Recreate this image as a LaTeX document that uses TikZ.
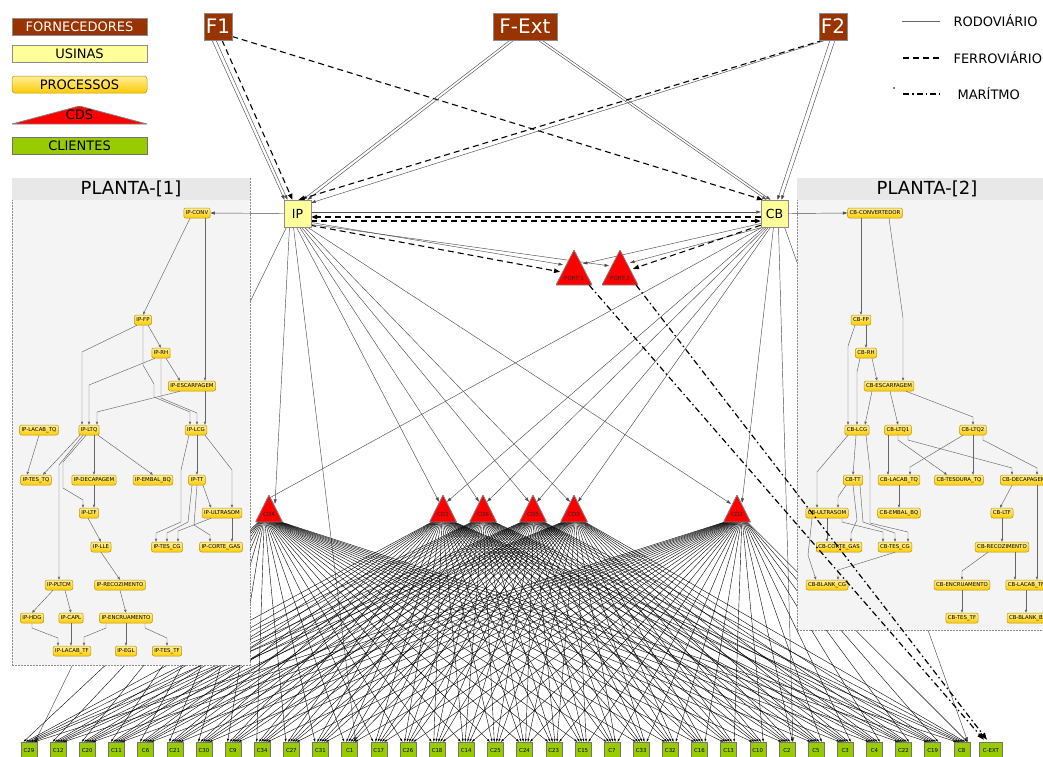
\documentclass[tikz,border=0pt]{standalone}
\usepackage{fontspec}
\setmainfont{DejaVu Sans}
\usetikzlibrary{arrows.meta,calc}
\pgfdeclarelayer{wires}
\pgfdeclarelayer{clusters}
\pgfdeclarelayer{over}
\pgfsetlayers{wires,clusters,main,over}

\definecolor{fornfill}{HTML}{993300}
\definecolor{usinafill}{HTML}{FFFF99}
\definecolor{procA}{HTML}{FFEE99}
\definecolor{procB}{HTML}{FFCC00}
\definecolor{procline}{HTML}{B8960A}
\definecolor{clifill}{HTML}{99CC00}
\definecolor{cdred}{HTML}{FF0000}
\definecolor{clhead}{HTML}{E8E8E8}
\definecolor{clbody}{HTML}{F4F4F4}

\tikzset{
  forn/.style={draw=black!45, fill=fornfill, text=white, inner sep=0pt, minimum height=27, font=\fontsize{20}{20}\selectfont},
  usinabox/.style={draw=black!45, fill=usinafill, inner sep=0pt, minimum width=27, minimum height=27, font=\fontsize{12.5}{13}\selectfont},
  proc/.style={draw=procline, rounded corners=2pt, top color=procA, bottom color=procB, inner xsep=2pt, inner ysep=0pt, minimum height=10, font=\fontsize{5.4}{6}\selectfont, line width=0.5pt},
  cli/.style={draw=black!55, fill=clifill, inner sep=0pt, minimum width=16, minimum height=18, font=\fontsize{5.4}{6}\selectfont},
  tri/.style={inner sep=0pt, path picture={\filldraw[fill=cdred, draw=black!50, line width=0.8pt] (path picture bounding box.south west) -- (path picture bounding box.south east) -- (path picture bounding box.north) -- cycle;}},
  cdnode/.style={tri, minimum width=27, minimum height=27},
  portnode/.style={tri, minimum width=36, minimum height=35},
  trilabel/.style={font=\fontsize{5.6}{6}\selectfont, text=black!85, anchor=center, label distance=0pt},
  cluster/.style={draw=black!45, dash pattern=on 2pt off 1pt, fill=clbody, line width=0.5pt, inner sep=0pt},
  road/.style={draw=black!70, line width=0.45pt, -{Triangle[length=4.5pt,width=3pt]}},
  rail/.style={draw=black, line width=1.1pt, dash pattern=on 6pt off 4pt, -{Triangle[length=6pt,width=4.5pt]}},
  sea/.style={draw=black, line width=1.2pt, dash pattern=on 6pt off 3pt on 1.5pt off 3pt, -{Triangle[length=7pt,width=5pt]}},
  fan/.style={draw=black, line width=0.4pt, -{Triangle[length=3pt,width=1.8pt]}},
  pe/.style={draw=black!60, line width=0.45pt, -{Triangle[length=3pt,width=2.4pt]}},
  legtext/.style={font=\fontsize{13}{13}\selectfont, anchor=west}
}

\begin{document}
\begin{tikzpicture}[x=1pt,y=-1pt]
\useasboundingbox (0,0) rectangle (1043,756);
\clip (0,0) rectangle (1043,756);

% ---------- legend ----------
\node[forn, minimum width=135, minimum height=17, font=\fontsize{13}{13}\selectfont] (lgF) at (79.5,26.5) {FORNECEDORES};
\node[usinabox, minimum width=135, minimum height=17, font=\fontsize{13}{13}\selectfont] (lgU) at (79.5,53.5) {USINAS};
\node[proc, minimum width=135, minimum height=17, rounded corners=3pt, font=\fontsize{13}{13}\selectfont] (lgP) at (79.5,84.5) {PROCESSOS};
\node[tri, minimum width=135, minimum height=18, font=\fontsize{13}{13}\selectfont] (lgCD) at (79.5,115) {CDS};
\node[cli, minimum width=135, minimum height=17, font=\fontsize{13}{13}\selectfont] (lgC) at (79.5,145.5) {CLIENTES};

\draw[draw=black!60, line width=0.5pt] (902,21) -- (940,21);
\node[legtext] (lgRod) at (950,21) {RODOVIÁRIO};
\draw[draw=black, line width=1.1pt, dash pattern=on 6pt off 4pt] (903,58) -- (940,58);
\node[legtext] (lgFer) at (950,58) {FERROVIÁRIO};
\fill (894,88) circle (0.8);
\draw[draw=black, line width=1.2pt, dash pattern=on 6pt off 3pt on 1.5pt off 3pt] (903,94) -- (940,94);
\node[legtext] (lgMar) at (954,94) {MARÍTMO};

% ---------- suppliers and mills ----------
\node[forn, minimum width=28] (F1) at (218,26.5) {F1};
\node[forn, minimum width=64] (FExt) at (525,26.5) {F-Ext};
\node[forn, minimum width=28] (F2) at (833,26.5) {F2};
\node[usinabox] (IP) at (297.5,213.5) {IP};
\node[usinabox] (CB) at (774.5,213.5) {CB};

% ---------- ports and distribution centres ----------
\node[portnode, label={[trilabel, yshift=-29pt]90:PORT-1}] (PORT1) at (574,267.5) {};
\node[portnode, label={[trilabel, yshift=-29pt]90:PORT-2}] (PORT2) at (620,267.5) {};
\foreach \nm/\x in {CD4/269,CD1/443,CD6/483,CD5/533,CD3/574,CD2/737}
  \node[cdnode, label={[trilabel, yshift=-20pt]90:\nm}] (\nm) at (\x,508.5) {};

% ---------- clients ----------
\def\clientlist{C29,C12,C20,C11,C6,C21,C30,C9,C34,C27,C31,C1,C17,C26,C18,C14,C25,C24,C23,C15,C7,C33,C32,C16,C13,C10,C2,C5,C3,C4,C22,C19,C8}
\foreach \nm [count=\i from 0] in \clientlist
  \node[cli] (\nm) at ({29+29.15*\i},751) {\nm};
\node[cli, minimum width=23] (CEXT) at (991,751) {C-EXT};

% ---------- plant 1 processes ----------
\node[proc] (ipconv) at (197,213) {IP-CONV};
\node[proc] (ipfp) at (143,320) {IP-FP};
\node[proc] (iprh) at (161,353) {IP-RH};
\node[proc] (ipesc) at (192,386) {IP-ESCARFAGEM};
\node[proc] (iplacabtq) at (39,430) {IP-LACAB\_TQ};
\node[proc] (ipltq) at (89,430) {IP-LTQ};
\node[proc] (iplcg) at (196,430) {IP-LCG};
\node[proc] (iptestq) at (36,480) {IP-TES\_TQ};
\node[proc] (ipdecap) at (94,480) {IP-DECAPAGEM};
\node[proc] (ipembal) at (153,480) {IP-EMBAL\_BQ};
\node[proc] (iptt) at (197,480) {IP-TT};
\node[proc] (ipltf) at (89,513) {IP-LTF};
\node[proc] (ipultra) at (222,513) {IP-ULTRASOM};
\node[proc] (iplle) at (101,547) {IP-LLE};
\node[proc] (iptescg) at (167,547) {IP-TES\_CG};
\node[proc] (ipcorte) at (221,547) {IP-CORTE\_GAS};
\node[proc] (ippltcm) at (59,585) {IP-PLTCM};
\node[proc] (iprecoz) at (120,585) {IP-RECOZIMENTO};
\node[proc] (iphdg) at (32,618) {IP-HDG};
\node[proc] (ipcapl) at (71,618) {IP-CAPL};
\node[proc] (ipencru) at (126,618) {IP-ENCRUAMENTO};
\node[proc] (iplacabtf) at (72,651) {IP-LACAB\_TF};
\node[proc] (ipegl) at (126,651) {IP-EGL};
\node[proc] (iptestf) at (167,651) {IP-TES\_TF};

% ---------- plant 2 processes ----------
\node[proc] (cbconv) at (875,213) {CB-CONVERTEDOR};
\node[proc] (cbfp) at (861,320) {CB-FP};
\node[proc] (cbrh) at (866,353) {CB-RH};
\node[proc] (cbesc) at (889,386) {CB-ESCARFAGEM};
\node[proc] (cblcg) at (857,430) {CB-LCG};
\node[proc] (cbltq1) at (898,430) {CB-LTQ1};
\node[proc] (cbltq2) at (973,430) {CB-LTQ2};
\node[proc] (cbtt) at (853,480) {CB-TT};
\node[proc] (cblacabtq) at (899,480) {CB-LACAB\_TQ};
\node[proc] (cbtesoura) at (959,480) {CB-TESOURA\_TQ};
\node[proc] (cbdecap) at (1024,480) {CB-DECAPAGEM};
\node[proc] (cbultra) at (827,513) {CB-ULTRASOM};
\node[proc] (cbembal) at (899,513) {CB-EMBAL\_BQ};
\node[proc] (cbltf) at (1002,513) {CB-LTF};
\node[proc] (cbcorte) at (839,547) {CB-CORTE\_GAS};
\node[proc] (cbtescg) at (895,547) {CB-TES\_CG};
\node[proc] (cbrecoz) at (1002,547) {CB-RECOZIMENTO};
\node[proc] (cbblankcg) at (827,585) {CB-BLANK\_CG};
\node[proc] (cbencru) at (962,585) {CB-ENCRUAMENTO};
\node[proc] (cblacabtf) at (1026,585) {CB-LACAB\_TF};
\node[proc] (cbtestf) at (962,618) {CB-TES\_TF};
\node[proc] (cbblankbq) at (1028,618) {CB-BLANK\_BQ};

% ---------- plant frames ----------
\begin{pgfonlayer}{clusters}
  \node[cluster, minimum width=238, minimum height=487] (planta1) at (131,421.5) {};
  \fill[clhead] (12.4,178.4) rectangle (249.6,200);
  \node[font=\fontsize{18}{18}\selectfont] (planta1t) at (131,189) {PLANTA-[1]};
  \node[cluster, minimum width=260, minimum height=452] (planta2) at (927,404) {};
  \fill[clhead] (797.4,178.4) rectangle (1056.6,200);
  \node[font=\fontsize{18}{18}\selectfont] (planta2t) at (927,189) {PLANTA-[2]};
\end{pgfonlayer}

% ---------- road / rail network ----------
\begin{pgfonlayer}{wires}
  % suppliers to mills
  \draw[road] ($(F1.south)+(-6,0)$) -- ($(IP.north)+(-13,0)$);
  \draw[road] ($(F1.south)+(-2,0)$) -- ($(IP.north)+(-10,0)$);
  \draw[rail] ($(F1.south)+(4,0)$) -- ($(IP.north)+(-5,0)$);
  \draw[rail] ($(F1.east)+(0,10)$) -- ($(CB.north west)+(2,0)$);
  \draw[road] ($(FExt.south)+(-15,0)$) -- ($(IP.north)+(5,0)$);
  \draw[road] ($(FExt.south)+(-11,0)$) -- ($(IP.north)+(10,0)$);
  \draw[road] ($(FExt.south)+(13,0)$) -- ($(CB.north)+(-8,0)$);
  \draw[road] ($(FExt.south)+(17,0)$) -- ($(CB.north)+(-4,0)$);
  \draw[rail] ($(F2.south)+(-10,0)$) -- ($(IP.north)+(1,0)$);
  \draw[road] ($(F2.south)+(-7,0)$) -- ($(IP.north east)+(0,3)$);
  \draw[road] ($(F2.south)+(-3,0)$) -- ($(CB.north)+(3,0)$);
  \draw[road] ($(F2.south)+(2,0)$) -- ($(CB.north)+(7,0)$);
  % between mills
  \draw[road] ($(IP.east)+(0,-1.5)$) -- ($(CB.west)+(0,-1.5)$);
  \draw[rail] ($(CB.west)+(0,3.5)$) -- ($(IP.east)+(0,3.5)$);
  \draw[rail] ($(IP.east)+(0,7.5)$) -- ($(CB.west)+(0,7.5)$);
  % mills to ports
  \draw[road] ($(IP.east)+(0,9)$) -- ($(PORT1.north)+(-11,15)$);
  \draw[rail] ($(IP.south east)+(-1,-2)$) -- ($(PORT1.north)+(-14,22)$);
  \draw[road] ($(IP.east)+(0,11)$) -- ($(PORT2.north)+(-11,16)$);
  \draw[road] ($(CB.west)+(0,10)$) -- ($(PORT1.north)+(9,14)$);
  \draw[road] ($(CB.south west)+(2,0)$) -- ($(PORT2.north)+(10,13)$);
  \draw[rail] ($(CB.south west)+(0,-2)$) -- ($(PORT2.north)+(13,19)$);
  % mills to distribution centres and clients
  \draw[road] ($(IP.south)+(-11,0)$) -- ($(C29.north)+(6,0)$);
  \draw[road] ($(IP.south)+(-8,0)$) -- ($(CD4.north)+(6,9)$);
  \draw[road] ($(IP.south)+(-4,0)$) -- ($(C1.north)+(6,0)$);
  \draw[road] ($(IP.south)+(-1,0)$) -- ($(CD1.north)+(-4,7)$);
  \draw[road] ($(IP.south)+(2,0)$) -- ($(CD6.north)+(-4,7)$);
  \draw[road] ($(IP.south)+(4,0)$) -- ($(CD5.north)+(-4,7)$);
  \draw[road] ($(IP.south)+(7,0)$) -- ($(CD3.north)+(-4,7)$);
  \draw[road] ($(IP.south)+(10,0)$) -- ($(CD2.north)+(-6,9)$);
  \draw[road] ($(CB.south)+(-12,0)$) -- ($(CD4.north)+(-3,5)$);
  \draw[road] ($(CB.south)+(-10,0)$) -- ($(CD1.north)+(4,7)$);
  \draw[road] ($(CB.south)+(-8,0)$) -- ($(CD6.north)+(4,7)$);
  \draw[road] ($(CB.south)+(-6,0)$) -- ($(CD5.north)+(4,7)$);
  \draw[road] ($(CB.south)+(-4,0)$) -- ($(CD3.north)+(4,7)$);
  \draw[road] ($(CB.south)+(-1,0)$) -- ($(CD2.north)+(5,8)$);
  \draw[road] ($(CB.south)+(4,0)$) -- ($(C2.north)+(6,0)$);
  \draw[road] ($(CB.south)+(10,0)$) -- ($(C8.north)+(6,0)$);
  % distribution centres to clients
  \foreach \cd [count=\k] in {CD4,CD1,CD6,CD5,CD3,CD2} {
    \foreach \nm [count=\i from 0] in \clientlist {
      \draw[fan] ($(\cd.south)+({(\i-16)*0.6},-1)$) -- ($(\nm.north)+({(\k-3.5)*2.2},0)$);
    }
  }
\end{pgfonlayer}

% ---------- plant 1 flows ----------
\draw[road] (IP.west) -- (ipconv.east);
\draw[pe] ($(ipconv.south)+(-7,0)$) -- (ipfp.north);
\draw[pe] ($(ipconv.south)+(8,0)$) -- ($(ipesc.north)+(13,0)$);
\draw[pe] ($(ipfp.south)+(5,0)$) -- (iprh.north);
\draw[pe] ($(ipfp.south)+(-6,0)$) -- (82,352) -- ($(ipltq.north)+(-7,0)$);
\draw[pe] (ipfp.south) -- (143,365) -- (154,384) -- (154,397) -- (190,412) -- ($(iplcg.north)+(-6,0)$);
\draw[pe] ($(iprh.south)+(5,0)$) -- ($(ipesc.north)+(-12,0)$);
\draw[pe] ($(iprh.south)+(-6,0)$) -- (89,385) -- (ipltq.north);
\draw[pe] (iprh.south) -- (161,398) -- (197,413) -- ($(iplcg.north)+(1,0)$);
\draw[pe] ($(ipesc.south)+(-12,0)$) -- (97,412) -- ($(ipltq.north)+(8,0)$);
\draw[pe] ($(ipesc.south)+(13,0)$) -- ($(iplcg.north)+(9,0)$);
\draw[pe] (iplacabtq.south) -- ($(iptestq.north)+(-9,0)$);
\draw[pe] ($(ipltq.south)+(-9,0)$) -- ($(iptestq.north)+(7,0)$);
\draw[pe] ($(ipltq.south)+(5,0)$) -- (ipdecap.north);
\draw[pe] ($(ipltq.south)+(9,0)$) -- (ipembal.north);
\draw[pe] ($(ipltq.south)+(-3,0)$) -- (63,462) -- (63,488) -- (83,500) -- ($(ipltf.north)+(-6,0)$);
\draw[pe] ($(ipltq.south)+(-6,0)$) -- (59,465) -- (ippltcm.north);
\draw[pe] (ipdecap.south) -- ($(ipltf.north)+(5,0)$);
\draw[pe] ($(ipltf.south)+(-1,0)$) -- (iplle.north);
\draw[pe] (iplle.south) -- (iprecoz.north);
\draw[pe] (iprecoz.south) -- (ipencru.north);
\draw[pe] ($(ippltcm.south)+(-6,0)$) -- (iphdg.north);
\draw[pe] ($(ippltcm.south)+(6,0)$) -- (ipcapl.north);
\draw[pe] (iphdg.south) -- (32,628) -- (58,638) -- ($(iplacabtf.north)+(-14,0)$);
\draw[pe] (ipcapl.south) -- ($(iplacabtf.north)+(-1,0)$);
\draw[pe] ($(ipencru.south)+(-20,0)$) -- (106,628) -- (84,637) -- ($(iplacabtf.north)+(12,0)$);
\draw[pe] (ipencru.south) -- (ipegl.north);
\draw[pe] ($(ipencru.south)+(19,0)$) -- (145,628) -- (167,638) -- (iptestf.north);
\draw[pe] ($(iplcg.south)+(1,0)$) -- (iptt.north);
\draw[pe] ($(iplcg.south)+(9,0)$) -- (232,470) -- ($(ipultra.north)+(10,0)$);
\draw[pe] ($(iplcg.south)+(-7,0)$) -- (181,470) -- (181,522) -- (156,533) -- ($(iptescg.north)+(-11,0)$);
\draw[pe] ($(iptt.south)+(-5,0)$) -- (188,522) -- (167,533) -- (iptescg.north);
\draw[pe] (iptt.south) -- (194,525) -- (210,535) -- ($(ipcorte.north)+(-11,0)$);
\draw[pe] ($(iptt.south)+(6,0)$) -- ($(ipultra.north)+(-11,0)$);
\draw[pe] ($(ipultra.south)+(-11,0)$) -- (178,531) -- ($(iptescg.north)+(11,0)$);
\draw[pe] ($(ipultra.south)+(10,0)$) -- ($(ipcorte.north)+(11,0)$);

% ---------- plant 2 flows ----------
\draw[road] (CB.east) -- (cbconv.west);
\draw[pe] ($(cbconv.south)+(-14,0)$) -- (cbfp.north);
\draw[pe] ($(cbconv.south)+(14,0)$) -- (903,318) -- ($(cbesc.north)+(14,0)$);
\draw[pe] ($(cbfp.south)+(5,0)$) -- (cbrh.north);
\draw[pe] ($(cbfp.south)+(-6,0)$) -- (848,346) -- ($(cblcg.north)+(-9,0)$);
\draw[pe] ($(cbrh.south)+(6,0)$) -- ($(cbesc.north)+(-12,0)$);
\draw[pe] ($(cbrh.south)+(-6,0)$) -- (857,372) -- (cblcg.north);
\draw[pe] ($(cbesc.south)+(-17,0)$) -- ($(cblcg.north)+(8,0)$);
\draw[pe] ($(cbesc.south)+(1,0)$) -- (cbltq1.north);
\draw[pe] ($(cbesc.south)+(17,0)$) -- (973,417) -- (cbltq2.north);
\draw[pe] ($(cblcg.south)+(-9,0)$) -- (817,472) -- ($(cbultra.north)+(-10,0)$);
\draw[pe] ($(cblcg.south)+(-1,0)$) -- (cbtt.north);
\draw[pe] ($(cblcg.south)+(9,0)$) -- (870,470) -- (870,523) -- (908,532) -- ($(cbtescg.north)+(13,0)$);
\draw[pe] ($(cbltq1.south)+(-10,0)$) -- ($(cblacabtq.north)+(-11,0)$);
\draw[pe] (cbltq1.south) -- (898,440) -- ($(cbtesoura.north)+(-12,0)$);
\draw[pe] ($(cbltq1.south)+(10,0)$) -- (908,440) -- (1012,468) -- ($(cbdecap.north)+(-12,0)$);
\draw[pe] ($(cbltq2.south)+(-10,0)$) -- (910,467) -- ($(cblacabtq.north)+(11,0)$);
\draw[pe] (cbltq2.south) -- ($(cbtesoura.north)+(14,0)$);
\draw[pe] ($(cbltq2.south)+(10,0)$) -- (983,440) -- (1037,468) -- ($(cbdecap.north)+(13,0)$);
\draw[pe] (cblacabtq.south) -- (cbembal.north);
\draw[pe] ($(cbtt.south)+(-7,0)$) -- (838,497) -- ($(cbultra.north)+(11,0)$);
\draw[pe] (cbtt.south) -- (857,520) -- (851,533) -- ($(cbcorte.north)+(12,0)$);
\draw[pe] ($(cbtt.south)+(7,0)$) -- (863,522) -- (895,533) -- (cbtescg.north);
\draw[pe] (cbultra.south) -- ($(cbcorte.north)+(-12,0)$);
\draw[pe] ($(cbultra.south)+(15,0)$) -- (842,522) -- (883,532) -- ($(cbtescg.north)+(-12,0)$);
\draw[pe] ($(cbultra.south)+(-15,0)$) -- (808,555) -- ($(cbblankcg.north)+(-11,0)$);
\draw[pe] (cbtescg.south) -- (838,570) -- ($(cbblankcg.north)+(11,0)$);
\draw[pe] ($(cbdecap.south)+(-12,0)$) -- ($(cbltf.north)+(-2,0)$);
\draw[pe] ($(cbdecap.south)+(13,0)$) -- ($(cblacabtf.north)+(11,0)$);
\draw[pe] (cbltf.south) -- (cbrecoz.north);
\draw[pe] ($(cbrecoz.south)+(-14,0)$) -- (962,571) -- (cbencru.north);
\draw[pe] ($(cbrecoz.south)+(13,0)$) -- ($(cblacabtf.north)+(-11,0)$);
\draw[pe] (cbencru.south) -- (cbtestf.north);
\draw[pe] (cblacabtf.south) -- ($(cbblankbq.north)+(-2,0)$);

% ---------- sea routes ----------
\begin{pgfonlayer}{over}
  \draw[sea] ($(PORT1.south east)+(-3,0)$) -- ($(CEXT.north)+(-7,-2)$);
  \draw[sea] ($(PORT2.south east)+(-2,0)$) -- ($(CEXT.north)+(-4,-2)$);
\end{pgfonlayer}
\end{tikzpicture}
\end{document}
